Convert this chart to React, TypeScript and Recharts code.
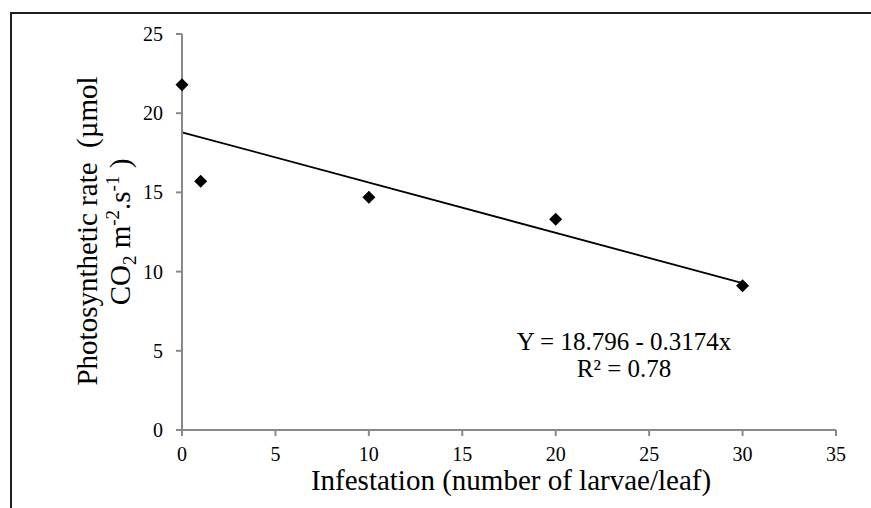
import React from "react";
import { ScatterChart, Scatter, XAxis, YAxis, ReferenceLine } from "recharts";

const infestation = [0, 1, 10, 20, 30];
const photoRate = [21.8, 15.7, 14.7, 13.3, 9.1];
const xTicks = [0, 5, 10, 15, 20, 25, 30, 35];
const yTicks = [0, 5, 10, 15, 20, 25];
const trendX = [0, 30];
const trendY = [18.796, 9.274];
const equationText = "Y = 18.796 - 0.3174x";
const r2Label = "R² = 0.78";

const points = infestation.map((x, i) => ({ x, y: photoRate[i] }));

const FONT = "'Liberation Serif', 'Times New Roman', serif";
const AXIS_COLOR = "#898989";

const Diamond = (props: any) => {
  const { cx, cy } = props;
  if (cx == null || cy == null) return null;
  const r = 6.5;
  return (
    <polygon
      points={`${cx},${cy - r} ${cx + r},${cy} ${cx},${cy + r} ${cx - r},${cy}`}
      fill="#000"
    />
  );
};

const XTick = (props: any) => {
  const { x, y, payload } = props;
  return (
    <text x={x} y={y + 14} textAnchor="middle" style={{ fontFamily: FONT, fontSize: 20 }} fill="#000">
      {payload.value}
    </text>
  );
};

const YTick = (props: any) => {
  const { x, y, payload } = props;
  return (
    <text x={x} y={y + 7} textAnchor="end" style={{ fontFamily: FONT, fontSize: 20 }} fill="#000">
      {payload.value}
    </text>
  );
};

const XLabel = () => (
  <text x={511} y={490} textAnchor="middle" style={{ fontFamily: FONT, fontSize: 29 }} fill="#000">
    Infestation (number of larvae/leaf)
  </text>
);

const YLabel = () => (
  <g style={{ fontFamily: FONT }} fill="#000">
    <text x={0} y={0} transform="translate(97,231) rotate(-90)" textAnchor="middle" style={{ fontSize: 29 }}>
      {"Photosynthetic rate\u00a0 (µmol"}
    </text>
    <text x={0} y={0} transform="translate(130,232) rotate(-90)" textAnchor="middle" style={{ fontSize: 29 }}>
      <tspan>CO</tspan>
      <tspan style={{ fontSize: 19 }} dy={6}>2</tspan>
      <tspan dy={-6}> m</tspan>
      <tspan style={{ fontSize: 19 }} dy={-11}>-2</tspan>
      <tspan dy={11}>.s</tspan>
      <tspan style={{ fontSize: 19 }} dy={-11}>-1</tspan>
      <tspan dy={11}>{"\u00a0)"}</tspan>
    </text>
  </g>
);

export default function App() {
  return (
    <div style={{ position: "absolute", left: 0, top: 0, width: 871, height: 508, background: "#fff" }}>
      <div style={{ position: "absolute", left: 11, top: 12, width: 860, height: 2, background: "#1e1e1e" }} />
      <div style={{ position: "absolute", left: 10, top: 12, width: 2, height: 496, background: "#1e1e1e" }} />
      <div style={{ position: "absolute", left: 0, top: 0 }}>
        <ScatterChart width={871} height={508} margin={{ top: 34, right: 35, bottom: 0, left: 0 }}>
          <XAxis
            type="number"
            dataKey="x"
            domain={[0, 35]}
            ticks={xTicks}
            height={78}
            stroke={AXIS_COLOR}
            strokeWidth={2}
            tickSize={6}
            tickMargin={11}
            tick={<XTick />}
            label={<XLabel />}
          />
          <YAxis
            type="number"
            dataKey="y"
            domain={[0, 25]}
            ticks={yTicks}
            width={182}
            stroke={AXIS_COLOR}
            strokeWidth={2}
            tickSize={6}
            tickMargin={13}
            tick={<YTick />}
            label={<YLabel />}
          />
          <ReferenceLine
            segment={[
              { x: trendX[0], y: trendY[0] },
              { x: trendX[1], y: trendY[1] },
            ]}
            stroke="#000"
            strokeWidth={1.8}
            ifOverflow="visible"
          />
          <Scatter data={points} shape={<Diamond />} isAnimationActive={false} />
        </ScatterChart>
      </div>
      <div
        style={{
          position: "absolute",
          left: 474,
          top: 328,
          width: 300,
          textAlign: "center",
          fontFamily: FONT,
          fontSize: 25,
          lineHeight: "27px",
          color: "#000",
          whiteSpace: "pre",
        }}
      >
        <div>{equationText}</div>
        <div>{r2Label}</div>
      </div>
    </div>
  );
}
